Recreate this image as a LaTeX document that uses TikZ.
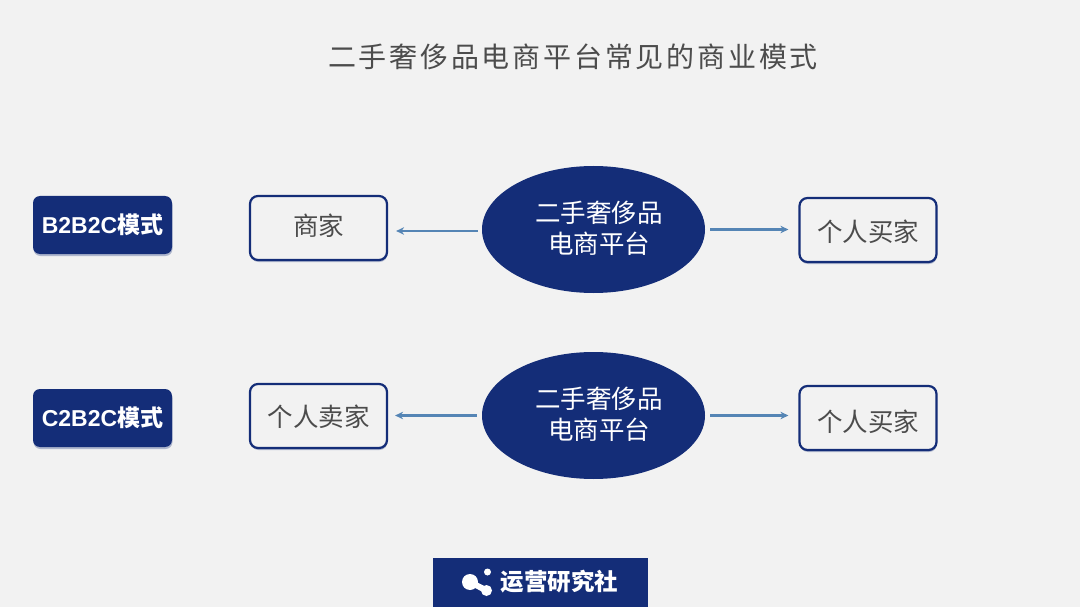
\documentclass[tikz,border=0pt]{standalone}
\usepackage{fontspec}
\setmainfont{Noto Sans CJK SC}
\newfontfamily\titlefont[LetterSpace=10]{Noto Sans CJK SC}
\newfontfamily\labelfont{Liberation Sans}
\usetikzlibrary{positioning,shadows,shapes.geometric,arrows.meta}
\definecolor{navy}{HTML}{142D78}
\definecolor{flowblue}{HTML}{5585B5}
\definecolor{inkgray}{HTML}{4C4C4C}
\definecolor{pagegray}{HTML}{F2F2F2}
\newcommand{\nudge}[2]{\raisebox{#1}[\height][\depth]{#2}}
\newcommand{\hubtext}{\hspace*{11pt}\nudge{1pt}{二手奢侈品}\\\hspace*{11pt}\nudge{1pt}{电商平台}}
\tikzset{
  softshadow/.style={drop shadow={shadow xshift=0.5pt,shadow yshift=-2pt,opacity=0.3,fill=navy}},
  modebox/.style={draw=none,fill=navy,rounded corners=7pt,minimum width=139pt,minimum height=58pt,
    inner sep=0pt,text=white,font=\fontsize{23}{23}\selectfont\bfseries,softshadow},
  partybox/.style={draw=navy,line width=2.2pt,fill=pagegray,rounded corners=8pt,minimum width=137pt,
    minimum height=64pt,inner sep=0pt,text=inkgray,font=\fontsize{25.5}{25.5}\selectfont,softshadow},
  hub/.style={ellipse,fill=navy,minimum width=223pt,minimum height=127pt,inner sep=0pt,text=white,
    align=center,font=\fontsize{25.5}{31}\selectfont},
  flow/.style={draw=flowblue,line width=2.1pt,-{Stealth[length=8pt,width=7.5pt]}},
}
\begin{document}
\begin{tikzpicture}[x=1pt,y=-1pt]
\useasboundingbox[fill=pagegray] (0,0) rectangle (1080,607);

\node (title) at (573,57) {\titlefont\fontsize{28}{28}\selectfont\color{inkgray}二手奢侈品电商平台常见的商业模式};

% first row
\node[modebox] (mode1) at (102.5,225) {{\labelfont B2B2C}模式};
\node[partybox] (seller1) at (318.5,228) {\nudge{2pt}{商家}};
\node[hub] (hub1) at (593.5,229.5) {\hubtext};
\node[partybox] (buyer1) at (868,230) {\nudge{-2pt}{个人买家}};

% second row
\node[modebox] (mode2) at (102.5,418) {{\labelfont C2B2C}模式};
\node[partybox] (seller2) at (318.5,416) {\nudge{-1pt}{个人卖家}};
\node[hub] (hub2) at (593.5,415.5) {\hubtext};
\node[partybox] (buyer2) at (868,418) {\nudge{-4pt}{个人买家}};

\draw[flow,shorten <=4pt,shorten >=8pt] ([yshift=-1.5pt]hub1.west) -- ([yshift=-1.5pt]hub1.west -| seller1.east);
\draw[flow,shorten <=5pt,shorten >=10pt] (hub1.east) -- (hub1.east -| buyer1.west);
\draw[flow,shorten <=5pt,shorten >=7pt] (hub2.west) -- (hub2.west -| seller2.east);
\draw[flow,shorten <=5pt,shorten >=10pt] (hub2.east) -- (hub2.east -| buyer2.west);

% logo strip
\node[fill=navy,minimum width=215pt,minimum height=49pt,inner sep=0pt] (strip) at (540.5,582.5) {};
\fill[white] (470,582) circle (8pt);
\fill[white] (486.5,590.5) circle (5.5pt);
\fill[white] (487.5,572) circle (3.5pt);
\draw[white,line width=6pt] (470,582) -- (486.5,590.5);
\node[text=white,font=\fontsize{23.5}{24}\selectfont\bfseries,inner sep=0pt] (brand) at (559.5,582) {运营研究社};
\end{tikzpicture}
\end{document}
